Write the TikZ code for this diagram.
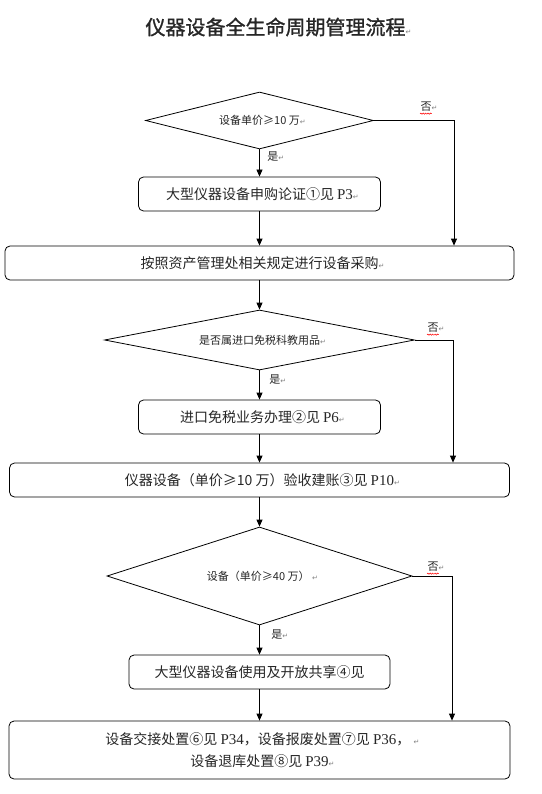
\documentclass[tikz,border=0pt]{standalone}
\usepackage{fontspec}
\usepackage{xcolor}
\usepackage{tikz}
\usetikzlibrary{arrows.meta, shapes.geometric, decorations.pathmorphing}
\setmainfont{Noto Sans CJK SC}
\newfontfamily\titlefont[FakeBold=1.2]{Noto Sans CJK SC}
\newfontfamily\tnr{Liberation Serif}
\newfontfamily\dejavu{DejaVu Sans}
\definecolor{flowtext}{HTML}{262626}
\newcommand\retmark{\rlap{\dejavu\color{gray}\fontsize{7}{7}\selectfont ↵}}

\begin{document}
\begin{tikzpicture}[x=1pt, y=-1pt, line width=0.8pt,
    every node/.style={text=flowtext},
    decision/.style={draw, diamond, inner sep=0pt, shape aspect=4,
                     font=\fontsize{11}{13}\selectfont},
    proc/.style={draw, rounded corners=5pt, inner sep=0pt, minimum height=34pt,
                 align=center, font=\fontsize{14}{22}\selectfont},
    arr/.style={-{Triangle[length=7pt, width=6pt]}},
    yesno/.style={inner sep=0pt, font=\fontsize{11}{13}\selectfont}]
  \useasboundingbox (0,0) rectangle (541,794);
  %% title
  \node[font=\fontsize{20}{24}\selectfont\titlefont] (title) at (275.5,27)
    {仪器设备全生命周期管理流程\retmark};

  %% main column, all centred on x = 259.5
  \node[decision, minimum width=228pt, minimum height=57pt] (qprice) at (259.5,120.5)
    {设备单价≥10 万\retmark};
  \node[proc, minimum width=242pt] (apply) at (259.5,194)
    {大型仪器设备申购论证①见 {\tnr\fontsize{15}{22}\selectfont P3}\retmark};
  \node[proc, minimum width=509pt] (purchase) at (259.5,263)
    {按照资产管理处相关规定进行设备采购\retmark};
  \node[decision, minimum width=310pt, minimum height=60pt] (qtax) at (259.5,340)
    {是否属进口免税科教用品\retmark};
  \node[proc, minimum width=242pt] (taxfree) at (259.5,417)
    {进口免税业务办理②见 {\tnr\fontsize{15}{22}\selectfont P6}\retmark};
  \node[proc, minimum width=500pt] (accept) at (259.5,480)
    {仪器设备（单价≥10 万）验收建账③见 {\tnr\fontsize{15}{22}\selectfont P10}\retmark};
  \node[decision, minimum width=305pt, minimum height=98pt] (qlarge) at (259.5,576)
    {设备（单价≥40 万） \retmark};
  \node[proc, minimum width=261pt] (share) at (259.5,672)
    {大型仪器设备使用及开放共享④见};
  \node[proc, minimum width=501pt, minimum height=58pt] (dispose) at (259.5,750)
    {设备交接处置⑥见 {\tnr\fontsize{15}{22}\selectfont P34}，设备报废处置⑦见 {\tnr\fontsize{15}{22}\selectfont P36}， \retmark\\
     设备退库处置⑧见 {\tnr\fontsize{15}{22}\selectfont P39}\retmark};

  %% yes / no labels
  \node[yesno, anchor=west] (yesA) at (267,157) {是\retmark};
  \node[yesno, anchor=west] (yesB) at (269,380) {是\retmark};
  \node[yesno, anchor=west] (yesC) at (271,635) {是\retmark};
  \node[yesno] (noA) at (426,107) {否\retmark};
  \node[yesno] (noB) at (433,328) {否\retmark};
  \node[yesno] (noC) at (433,567) {否\retmark};
  \foreach \n in {noA, noB, noC}
    \draw[red, line width=0.5pt, decorate,
          decoration={snake, amplitude=0.6pt, segment length=2.4pt}]
      ([yshift=-1.5pt]\n.south west) -- ([yshift=-1.5pt]\n.south east);

  %% connectors
  \foreach \a/\b in {qprice/apply, apply/purchase, purchase/qtax, qtax/taxfree,
                     taxfree/accept, accept/qlarge, qlarge/share, share/dispose}
    \draw[arr] (\a.south) -- (\b.north);
  \coordinate (railA) at (454,0);
  \coordinate (railB) at (453,0);
  \coordinate (railC) at (452,0);
  \draw[arr] (qprice.east) -| (purchase.north -| railA);
  \draw[arr] (qtax.east) -| (accept.north -| railB);
  \draw[arr] (qlarge.east) -| (dispose.north -| railC);
\end{tikzpicture}
\end{document}
